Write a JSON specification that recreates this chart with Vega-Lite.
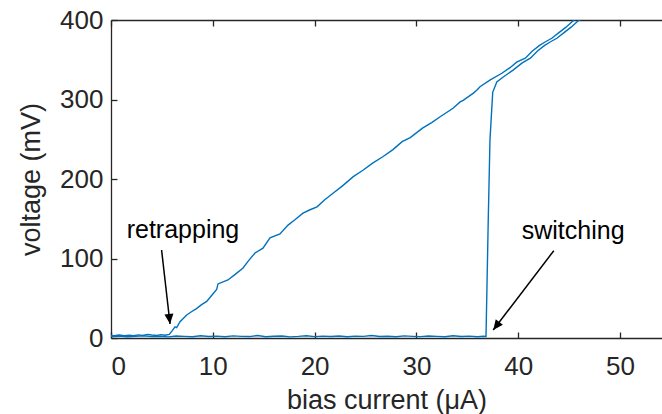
{
  "$schema": "https://vega.github.io/schema/vega-lite/v6.json",
  "width": 551,
  "height": 318,
  "autosize": "none",
  "padding": {"left": 111, "top": 20, "right": 0, "bottom": 76},
  "config": {
    "view": {"stroke": null},
    "axis": {
      "domainColor": "#262626",
      "domainWidth": 1.3,
      "tickColor": "#262626",
      "tickWidth": 1.3,
      "tickSize": -6,
      "labelColor": "#262626",
      "labelFont": "Liberation Sans",
      "labelFontSize": 26,
      "titleColor": "#262626",
      "titleFont": "Liberation Sans",
      "titleFontSize": 27,
      "titleFontWeight": "normal",
      "grid": false
    }
  },
  "datasets": {
    "curve": [
      {"sweep": "up", "current": 0, "voltage": 1.8},
      {"sweep": "up", "current": 0.8, "voltage": 2.4},
      {"sweep": "up", "current": 1.6, "voltage": 1.5},
      {"sweep": "up", "current": 2.4, "voltage": 2.1},
      {"sweep": "up", "current": 3.2, "voltage": 2.9},
      {"sweep": "up", "current": 4.0, "voltage": 1.7},
      {"sweep": "up", "current": 4.8, "voltage": 2.2},
      {"sweep": "up", "current": 5.6, "voltage": 1.4},
      {"sweep": "up", "current": 6.4, "voltage": 2.6},
      {"sweep": "up", "current": 7.2, "voltage": 2.0},
      {"sweep": "up", "current": 8.0, "voltage": 1.6},
      {"sweep": "up", "current": 8.8, "voltage": 2.8},
      {"sweep": "up", "current": 9.6, "voltage": 1.9},
      {"sweep": "up", "current": 10.4, "voltage": 2.3},
      {"sweep": "up", "current": 11.2, "voltage": 1.5},
      {"sweep": "up", "current": 12.0, "voltage": 2.7},
      {"sweep": "up", "current": 12.8, "voltage": 2.1},
      {"sweep": "up", "current": 13.6, "voltage": 1.8},
      {"sweep": "up", "current": 14.4, "voltage": 3.2},
      {"sweep": "up", "current": 15.2, "voltage": 1.6},
      {"sweep": "up", "current": 16.0, "voltage": 2.2},
      {"sweep": "up", "current": 16.8, "voltage": 2.5},
      {"sweep": "up", "current": 17.6, "voltage": 1.4},
      {"sweep": "up", "current": 18.4, "voltage": 2.0},
      {"sweep": "up", "current": 19.2, "voltage": 2.9},
      {"sweep": "up", "current": 20.0, "voltage": 1.7},
      {"sweep": "up", "current": 20.8, "voltage": 2.3},
      {"sweep": "up", "current": 21.6, "voltage": 1.9},
      {"sweep": "up", "current": 22.4, "voltage": 2.6},
      {"sweep": "up", "current": 23.2, "voltage": 1.5},
      {"sweep": "up", "current": 24.0, "voltage": 2.4},
      {"sweep": "up", "current": 24.8, "voltage": 2.0},
      {"sweep": "up", "current": 25.6, "voltage": 3.1},
      {"sweep": "up", "current": 26.4, "voltage": 1.8},
      {"sweep": "up", "current": 27.2, "voltage": 2.2},
      {"sweep": "up", "current": 28.0, "voltage": 1.6},
      {"sweep": "up", "current": 28.8, "voltage": 2.7},
      {"sweep": "up", "current": 29.6, "voltage": 2.1},
      {"sweep": "up", "current": 30.4, "voltage": 1.7},
      {"sweep": "up", "current": 31.2, "voltage": 2.5},
      {"sweep": "up", "current": 32.0, "voltage": 2.0},
      {"sweep": "up", "current": 32.8, "voltage": 1.5},
      {"sweep": "up", "current": 33.6, "voltage": 2.8},
      {"sweep": "up", "current": 34.4, "voltage": 1.9},
      {"sweep": "up", "current": 35.2, "voltage": 2.3},
      {"sweep": "up", "current": 36.0, "voltage": 1.6},
      {"sweep": "up", "current": 36.6, "voltage": 2.2},
      {"sweep": "up", "current": 36.84, "voltage": 2.0},
      {"sweep": "up", "current": 37.06, "voltage": 148},
      {"sweep": "up", "current": 37.23, "voltage": 249},
      {"sweep": "up", "current": 37.4, "voltage": 287},
      {"sweep": "up", "current": 37.5, "voltage": 309},
      {"sweep": "up", "current": 37.9, "voltage": 322},
      {"sweep": "up", "current": 38.5, "voltage": 328},
      {"sweep": "up", "current": 39.5, "voltage": 337},
      {"sweep": "up", "current": 40.4, "voltage": 346},
      {"sweep": "up", "current": 41.2, "voltage": 352},
      {"sweep": "up", "current": 41.9, "voltage": 361},
      {"sweep": "up", "current": 42.6, "voltage": 368},
      {"sweep": "up", "current": 43.1, "voltage": 372},
      {"sweep": "up", "current": 43.8, "voltage": 377},
      {"sweep": "up", "current": 44.6, "voltage": 385},
      {"sweep": "up", "current": 45.2, "voltage": 391},
      {"sweep": "up", "current": 45.9, "voltage": 399},
      {"sweep": "up", "current": 46.6, "voltage": 405},
      {"sweep": "down", "current": 0, "voltage": 3.3},
      {"sweep": "down", "current": 0.3, "voltage": 2.9},
      {"sweep": "down", "current": 0.8, "voltage": 3.7},
      {"sweep": "down", "current": 1.3, "voltage": 3.0},
      {"sweep": "down", "current": 1.8, "voltage": 3.6},
      {"sweep": "down", "current": 2.2, "voltage": 2.8},
      {"sweep": "down", "current": 2.7, "voltage": 3.9},
      {"sweep": "down", "current": 3.1, "voltage": 3.2},
      {"sweep": "down", "current": 3.6, "voltage": 4.5},
      {"sweep": "down", "current": 4.0, "voltage": 3.8},
      {"sweep": "down", "current": 4.5, "voltage": 3.1},
      {"sweep": "down", "current": 4.9, "voltage": 4.2},
      {"sweep": "down", "current": 5.3, "voltage": 3.5},
      {"sweep": "down", "current": 5.73, "voltage": 4.6},
      {"sweep": "down", "current": 6.0, "voltage": 9},
      {"sweep": "down", "current": 6.29, "voltage": 14},
      {"sweep": "down", "current": 6.45, "voltage": 13},
      {"sweep": "down", "current": 6.78, "voltage": 20.5},
      {"sweep": "down", "current": 7.44, "voltage": 29},
      {"sweep": "down", "current": 7.9, "voltage": 33},
      {"sweep": "down", "current": 8.4, "voltage": 37},
      {"sweep": "down", "current": 8.9, "voltage": 42},
      {"sweep": "down", "current": 9.4, "voltage": 46},
      {"sweep": "down", "current": 10.05, "voltage": 56},
      {"sweep": "down", "current": 10.38, "voltage": 61},
      {"sweep": "down", "current": 10.51, "voltage": 68},
      {"sweep": "down", "current": 11.49, "voltage": 73},
      {"sweep": "down", "current": 12.2, "voltage": 80},
      {"sweep": "down", "current": 12.97, "voltage": 88},
      {"sweep": "down", "current": 13.5, "voltage": 97},
      {"sweep": "down", "current": 14.15, "voltage": 107},
      {"sweep": "down", "current": 14.93, "voltage": 113},
      {"sweep": "down", "current": 15.62, "voltage": 126},
      {"sweep": "down", "current": 16.6, "voltage": 131},
      {"sweep": "down", "current": 17.39, "voltage": 142},
      {"sweep": "down", "current": 18.1, "voltage": 149},
      {"sweep": "down", "current": 18.86, "voltage": 157},
      {"sweep": "down", "current": 19.5, "voltage": 161},
      {"sweep": "down", "current": 20.24, "voltage": 165},
      {"sweep": "down", "current": 21.0, "voltage": 174},
      {"sweep": "down", "current": 21.81, "voltage": 182},
      {"sweep": "down", "current": 22.8, "voltage": 192},
      {"sweep": "down", "current": 23.8, "voltage": 203},
      {"sweep": "down", "current": 24.75, "voltage": 211},
      {"sweep": "down", "current": 25.7, "voltage": 220},
      {"sweep": "down", "current": 26.7, "voltage": 228},
      {"sweep": "down", "current": 27.7, "voltage": 237},
      {"sweep": "down", "current": 28.6, "voltage": 247},
      {"sweep": "down", "current": 29.4, "voltage": 252},
      {"sweep": "down", "current": 30.6, "voltage": 264},
      {"sweep": "down", "current": 31.5, "voltage": 271},
      {"sweep": "down", "current": 32.3, "voltage": 278},
      {"sweep": "down", "current": 33.6, "voltage": 289},
      {"sweep": "down", "current": 34.3, "voltage": 297},
      {"sweep": "down", "current": 34.6, "voltage": 299},
      {"sweep": "down", "current": 35.6, "voltage": 308},
      {"sweep": "down", "current": 35.95, "voltage": 312},
      {"sweep": "down", "current": 36.25, "voltage": 316},
      {"sweep": "down", "current": 37.3, "voltage": 325},
      {"sweep": "down", "current": 38.4, "voltage": 333},
      {"sweep": "down", "current": 39.2, "voltage": 340},
      {"sweep": "down", "current": 39.85, "voltage": 347},
      {"sweep": "down", "current": 40.7, "voltage": 352},
      {"sweep": "down", "current": 41.4, "voltage": 361},
      {"sweep": "down", "current": 42.1, "voltage": 368},
      {"sweep": "down", "current": 42.6, "voltage": 372},
      {"sweep": "down", "current": 43.3, "voltage": 377},
      {"sweep": "down", "current": 44.1, "voltage": 385},
      {"sweep": "down", "current": 44.7, "voltage": 391},
      {"sweep": "down", "current": 45.4, "voltage": 399},
      {"sweep": "down", "current": 46.1, "voltage": 405}
    ],
    "arrows": [
      {"label": "retrapping", "x0": 4.97, "y0": 110.7, "x1": 5.8, "y1": 17.6, "angle": 353.6, "tx": 7.07, "ty": 125.8},
      {"label": "switching", "x0": 43.5, "y0": 109.8, "x1": 37.55, "y1": 10, "angle": 37.4, "tx": 45.4, "ty": 124.5}
    ]
  },
  "resolve": {"axis": {"x": "independent", "y": "independent"}},
  "layer": [
    {
      "data": {"name": "curve"},
      "mark": {"type": "line", "color": "#0072BD", "strokeWidth": 1.4, "clip": true},
      "encoding": {
        "x": {"field": "current", "type": "quantitative",
              "scale": {"domain": [0, 54.13], "nice": false, "zero": false},
              "axis": {"values": [0, 10, 20, 30, 40, 50], "title": "bias current (μA)", "labelPadding": 21, "titlePadding": 8}},
        "y": {"field": "voltage", "type": "quantitative",
              "scale": {"domain": [0, 400], "nice": false},
              "axis": {"values": [0, 100, 200, 300, 400], "title": "voltage (mV)", "labelPadding": 14, "titlePadding": 14}},
        "detail": {"field": "sweep"}
      }
    },
    {
      "data": {"name": "arrows"},
      "mark": {"type": "rule", "color": "black", "strokeWidth": 1.5},
      "encoding": {
        "x": {"field": "x0", "type": "quantitative",
              "axis": {"orient": "top", "values": [0, 10, 20, 30, 40, 50], "labels": false, "title": null}},
        "y": {"field": "y0", "type": "quantitative", "axis": null},
        "x2": {"field": "x1"},
        "y2": {"field": "y1"}
      }
    },
    {
      "data": {"name": "arrows"},
      "mark": {"type": "point", "shape": "M0,0 L-0.45,-1 L0.45,-1 Z", "filled": true, "color": "black", "opacity": 1, "size": 400},
      "encoding": {
        "x": {"field": "x1", "type": "quantitative", "axis": null},
        "y": {"field": "y1", "type": "quantitative", "axis": null},
        "angle": {"field": "angle", "type": "quantitative", "scale": null}
      }
    },
    {
      "data": {"name": "arrows"},
      "mark": {"type": "text", "font": "Liberation Sans", "fontSize": 25, "color": "#000000", "align": "center", "baseline": "alphabetic"},
      "encoding": {
        "x": {"field": "tx", "type": "quantitative", "axis": null},
        "y": {"field": "ty", "type": "quantitative", "axis": null},
        "text": {"field": "label"}
      }
    }
  ]
}
